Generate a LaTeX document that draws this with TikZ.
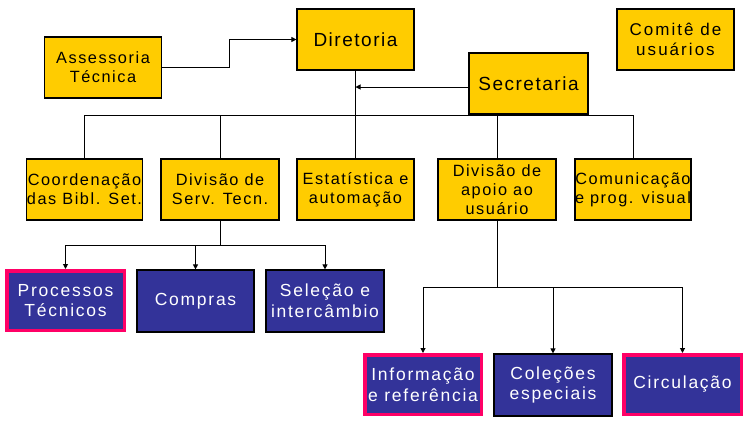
\documentclass[tikz,border=0pt]{standalone}
\usepackage{fontspec}
\setmainfont{Liberation Sans}[LetterSpace=8]
\usepackage{tikz}
\usetikzlibrary{arrows.meta,positioning,calc}
\definecolor{orgyellow}{RGB}{255,204,0}
\definecolor{orgblue}{RGB}{51,51,153}
\definecolor{orgpink}{RGB}{255,0,102}
\newcommand{\szbig}{\fontsize{19}{22}\selectfont}
\newcommand{\szmid}{\fontsize{17.5}{20.6}\selectfont\addfontfeature{LetterSpace=10}}
\newcommand{\szsmall}{\fontsize{16.3}{19}\selectfont\addfontfeature{LetterSpace=9.5}}
\newcommand{\szcom}{\fontsize{17}{20.7}\selectfont\addfontfeature{LetterSpace=12}}

\begin{document}
\begin{tikzpicture}[x=1pt, y=-1pt,
    ybox/.style={rectangle, draw=black, line width=1.2pt, fill=orgyellow,
                minimum width=117pt, minimum height=61pt, align=center, inner sep=0pt, font=\szsmall},
    bbox/.style={rectangle, draw=black, line width=1.2pt, fill=orgblue, text=white,
                minimum width=117pt, minimum height=62pt, align=center, inner sep=0pt, font=\szmid},
    pbox/.style={bbox, draw=orgpink, line width=3.5pt, minimum width=117.5pt, minimum height=59.5pt},
    arr/.style={-{Triangle[length=5pt,width=5pt]}, line width=1pt},
    conn/.style={line width=1pt}
]
    \useasboundingbox (0,0) rectangle (753,432);

    % top level
    \node[ybox]                      (assess) at (103,67.5)   {Assessoria\\Técnica};
    \node[ybox, font=\szbig]         (dir)    at (355.5,39.5) {Diretoria};
    \node[ybox, font=\szbig, minimum width=119pt] (sec) at (528.5,83.5) {Secretaria};
    \node[ybox, font=\szcom]         (comite) at (675.5,39.5) {Comitê de\\usuários};

    % divisions
    \node[ybox, minimum width=116pt] (coord)  at (84.5,189.5) {Coordenação\\das Bibl. Set.};
    \node[ybox, minimum width=118pt] (dst)    at (220,189.5)  {Divisão de\\Serv. Tecn.};
    \node[ybox]                      (estat)  at (355.5,189.5) {Estatística e\\automação};
    \node[ybox, minimum width=118pt] (dau)    at (497,189.5)  {Divisão de\\apoio ao\\usuário};
    \node[ybox, minimum width=116pt] (comun)  at (633,189.5)  {Comunicação\\e prog. visual};

    % sections
    \node[pbox]                      (proc)    at (65.5,300.5) {Processos\\Técnicos};
    \node[bbox]                      (compras) at (195.5,301)  {Compras};
    \node[bbox, minimum width=118pt] (selec)   at (325,301)    {Seleção e\\intercâmbio};
    \node[pbox, minimum width=116.5pt] (info)  at (423,384.5)  {Informação\\e referência};
    \node[bbox, minimum width=118pt] (colec)   at (553,385)    {Coleções\\especiais};
    \node[pbox]                      (circ)    at (682.5,384.5) {Circulação};

    \coordinate (bus)  at (0,115.5);
    \coordinate (busA) at (0,245);
    \coordinate (busB) at (0,287);

    \draw[arr] (assess.east) -- ([xshift=67pt]assess.east) |- (dir.west);
    \draw[conn] (dir) -- (estat);
    \draw[arr] ([yshift=-3.5pt]sec.west) -- ([yshift=-3.5pt]sec.west -| dir.south);

    \draw[conn] (coord.north) -- (coord.north |- bus) -- (comun.north |- bus) -- (comun.north);
    \draw[conn] (dst.north) -- (dst.north |- bus);
    \draw[conn] (dau.north) -- (dau.north |- bus);

    \draw[conn] (dst.south) -- (dst.south |- busA);
    \draw[conn] (proc.north |- busA) -- (selec.north |- busA);
    \foreach \n in {proc,compras,selec}
        \draw[arr] (\n.north |- busA) -- (\n.north);

    \draw[conn] (dau.south) -- (dau.south |- busB);
    \draw[conn] (info.north |- busB) -- (circ.north |- busB);
    \foreach \n in {info,colec,circ}
        \draw[arr] (\n.north |- busB) -- (\n.north);
\end{tikzpicture}
\end{document}
